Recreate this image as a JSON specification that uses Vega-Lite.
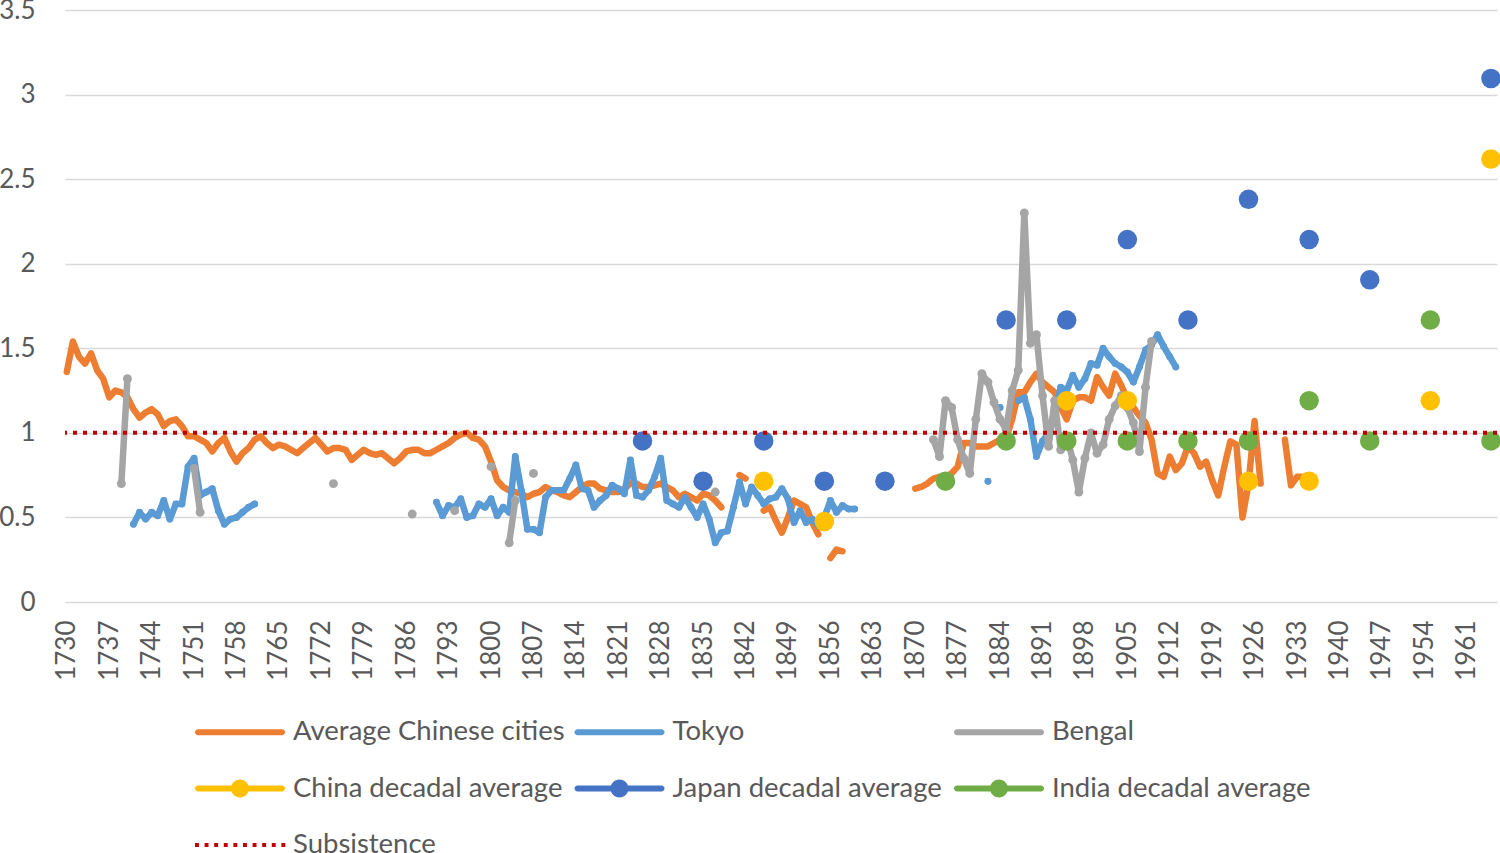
{
  "$schema": "https://vega.github.io/schema/vega-lite/v6.json",
  "width": 1432,
  "height": 592,
  "autosize": "none",
  "padding": {"left": 65, "top": 10, "right": 3, "bottom": 251},
  "background": "white",
  "config": {
    "view": {"stroke": null},
    "font": "Lato",
    "legend": {
      "title": null,
      "orient": "none",
      "direction": "horizontal",
      "legendX": 130,
      "legendY": 707,
      "columns": 3,
      "gridAlign": "all",
      "columnPadding": 9.5,
      "rowPadding": 27.5,
      "padding": 0,
      "symbolSize": 900,
      "symbolStrokeWidth": 0,
      "symbolOffset": 0,
      "symbolOpacity": 1,
      "labelOffset": 68,
      "labelFont": "Lato",
      "labelFontSize": 27.5,
      "labelColor": "#595959",
      "labelLimit": 500
    }
  },
  "datasets": {
    "annual": [
      {"year": 1730, "Average Chinese cities": 1.36},
      {"year": 1731, "Average Chinese cities": 1.54},
      {"year": 1732, "Average Chinese cities": 1.45},
      {"year": 1733, "Average Chinese cities": 1.41},
      {"year": 1734, "Average Chinese cities": 1.47},
      {"year": 1735, "Average Chinese cities": 1.37},
      {"year": 1736, "Average Chinese cities": 1.32},
      {"year": 1737, "Average Chinese cities": 1.21},
      {"year": 1738, "Average Chinese cities": 1.25},
      {"year": 1739, "Average Chinese cities": 1.24, "Bengal": 0.70},
      {"year": 1740, "Average Chinese cities": 1.21, "Bengal": 1.32},
      {"year": 1741, "Average Chinese cities": 1.14, "Tokyo": 0.46},
      {"year": 1742, "Average Chinese cities": 1.09, "Tokyo": 0.53},
      {"year": 1743, "Average Chinese cities": 1.12, "Tokyo": 0.49},
      {"year": 1744, "Average Chinese cities": 1.14, "Tokyo": 0.53},
      {"year": 1745, "Average Chinese cities": 1.11, "Tokyo": 0.51},
      {"year": 1746, "Average Chinese cities": 1.04, "Tokyo": 0.60},
      {"year": 1747, "Average Chinese cities": 1.07, "Tokyo": 0.49},
      {"year": 1748, "Average Chinese cities": 1.08, "Tokyo": 0.58},
      {"year": 1749, "Average Chinese cities": 1.04, "Tokyo": 0.58},
      {"year": 1750, "Average Chinese cities": 0.98, "Tokyo": 0.80},
      {"year": 1751, "Average Chinese cities": 0.98, "Tokyo": 0.85, "Bengal": 0.79},
      {"year": 1752, "Average Chinese cities": 0.96, "Tokyo": 0.63, "Bengal": 0.53},
      {"year": 1753, "Average Chinese cities": 0.94, "Tokyo": 0.65},
      {"year": 1754, "Average Chinese cities": 0.89, "Tokyo": 0.67},
      {"year": 1755, "Average Chinese cities": 0.94, "Tokyo": 0.54},
      {"year": 1756, "Average Chinese cities": 0.97, "Tokyo": 0.46},
      {"year": 1757, "Average Chinese cities": 0.89, "Tokyo": 0.49},
      {"year": 1758, "Average Chinese cities": 0.83, "Tokyo": 0.50},
      {"year": 1759, "Average Chinese cities": 0.88, "Tokyo": 0.53},
      {"year": 1760, "Average Chinese cities": 0.91, "Tokyo": 0.56},
      {"year": 1761, "Average Chinese cities": 0.96, "Tokyo": 0.58},
      {"year": 1762, "Average Chinese cities": 0.98},
      {"year": 1763, "Average Chinese cities": 0.94},
      {"year": 1764, "Average Chinese cities": 0.91},
      {"year": 1765, "Average Chinese cities": 0.93},
      {"year": 1766, "Average Chinese cities": 0.92},
      {"year": 1767, "Average Chinese cities": 0.90},
      {"year": 1768, "Average Chinese cities": 0.88},
      {"year": 1769, "Average Chinese cities": 0.91},
      {"year": 1770, "Average Chinese cities": 0.94},
      {"year": 1771, "Average Chinese cities": 0.97},
      {"year": 1772, "Average Chinese cities": 0.93},
      {"year": 1773, "Average Chinese cities": 0.89},
      {"year": 1774, "Average Chinese cities": 0.91, "Bengal": 0.70},
      {"year": 1775, "Average Chinese cities": 0.91},
      {"year": 1776, "Average Chinese cities": 0.90},
      {"year": 1777, "Average Chinese cities": 0.84},
      {"year": 1778, "Average Chinese cities": 0.87},
      {"year": 1779, "Average Chinese cities": 0.90},
      {"year": 1780, "Average Chinese cities": 0.88},
      {"year": 1781, "Average Chinese cities": 0.87},
      {"year": 1782, "Average Chinese cities": 0.88},
      {"year": 1783, "Average Chinese cities": 0.85},
      {"year": 1784, "Average Chinese cities": 0.82},
      {"year": 1785, "Average Chinese cities": 0.85},
      {"year": 1786, "Average Chinese cities": 0.89},
      {"year": 1787, "Average Chinese cities": 0.90, "Bengal": 0.52},
      {"year": 1788, "Average Chinese cities": 0.90},
      {"year": 1789, "Average Chinese cities": 0.88},
      {"year": 1790, "Average Chinese cities": 0.88},
      {"year": 1791, "Average Chinese cities": 0.90, "Tokyo": 0.59},
      {"year": 1792, "Average Chinese cities": 0.92, "Tokyo": 0.51},
      {"year": 1793, "Average Chinese cities": 0.94, "Tokyo": 0.57},
      {"year": 1794, "Average Chinese cities": 0.97, "Tokyo": 0.56, "Bengal": 0.54},
      {"year": 1795, "Average Chinese cities": 0.99, "Tokyo": 0.61},
      {"year": 1796, "Average Chinese cities": 1.00, "Tokyo": 0.50},
      {"year": 1797, "Average Chinese cities": 0.97, "Tokyo": 0.51},
      {"year": 1798, "Average Chinese cities": 0.96, "Tokyo": 0.58},
      {"year": 1799, "Average Chinese cities": 0.92, "Tokyo": 0.56},
      {"year": 1800, "Average Chinese cities": 0.83, "Tokyo": 0.61, "Bengal": 0.80},
      {"year": 1801, "Average Chinese cities": 0.72, "Tokyo": 0.51},
      {"year": 1802, "Average Chinese cities": 0.68, "Tokyo": 0.56},
      {"year": 1803, "Average Chinese cities": 0.66, "Tokyo": 0.53, "Bengal": 0.35},
      {"year": 1804, "Average Chinese cities": 0.65, "Tokyo": 0.86, "Bengal": 0.60},
      {"year": 1805, "Average Chinese cities": 0.64, "Tokyo": 0.66},
      {"year": 1806, "Average Chinese cities": 0.62, "Tokyo": 0.43},
      {"year": 1807, "Average Chinese cities": 0.64, "Tokyo": 0.43, "Bengal": 0.76},
      {"year": 1808, "Average Chinese cities": 0.65, "Tokyo": 0.41},
      {"year": 1809, "Average Chinese cities": 0.68, "Tokyo": 0.62},
      {"year": 1810, "Average Chinese cities": 0.66, "Tokyo": 0.66},
      {"year": 1811, "Average Chinese cities": 0.65, "Tokyo": 0.66},
      {"year": 1812, "Average Chinese cities": 0.63, "Tokyo": 0.66},
      {"year": 1813, "Average Chinese cities": 0.62, "Tokyo": 0.73},
      {"year": 1814, "Average Chinese cities": 0.65, "Tokyo": 0.81},
      {"year": 1815, "Average Chinese cities": 0.68, "Tokyo": 0.67},
      {"year": 1816, "Average Chinese cities": 0.70, "Tokyo": 0.66},
      {"year": 1817, "Average Chinese cities": 0.70, "Tokyo": 0.56},
      {"year": 1818, "Average Chinese cities": 0.67, "Tokyo": 0.60},
      {"year": 1819, "Average Chinese cities": 0.66, "Tokyo": 0.63},
      {"year": 1820, "Average Chinese cities": 0.65, "Tokyo": 0.69},
      {"year": 1821, "Average Chinese cities": 0.65, "Tokyo": 0.67},
      {"year": 1822, "Average Chinese cities": 0.67, "Tokyo": 0.64},
      {"year": 1823, "Average Chinese cities": 0.70, "Tokyo": 0.84},
      {"year": 1824, "Average Chinese cities": 0.70, "Tokyo": 0.63},
      {"year": 1825, "Average Chinese cities": 0.68, "Tokyo": 0.62},
      {"year": 1826, "Average Chinese cities": 0.68, "Tokyo": 0.66},
      {"year": 1827, "Average Chinese cities": 0.69, "Tokyo": 0.74},
      {"year": 1828, "Average Chinese cities": 0.70, "Tokyo": 0.85},
      {"year": 1829, "Average Chinese cities": 0.68, "Tokyo": 0.60},
      {"year": 1830, "Average Chinese cities": 0.66, "Tokyo": 0.58},
      {"year": 1831, "Average Chinese cities": 0.62, "Tokyo": 0.56},
      {"year": 1832, "Average Chinese cities": 0.64, "Tokyo": 0.62},
      {"year": 1833, "Average Chinese cities": 0.62, "Tokyo": 0.56},
      {"year": 1834, "Average Chinese cities": 0.60, "Tokyo": 0.50},
      {"year": 1835, "Average Chinese cities": 0.64, "Tokyo": 0.58},
      {"year": 1836, "Average Chinese cities": 0.63, "Tokyo": 0.49},
      {"year": 1837, "Average Chinese cities": 0.60, "Tokyo": 0.35, "Bengal": 0.65},
      {"year": 1838, "Average Chinese cities": 0.56, "Tokyo": 0.41},
      {"year": 1839, "Tokyo": 0.42},
      {"year": 1840, "Tokyo": 0.56},
      {"year": 1841, "Average Chinese cities": 0.75, "Tokyo": 0.71},
      {"year": 1842, "Average Chinese cities": 0.73, "Tokyo": 0.58},
      {"year": 1843, "Tokyo": 0.68},
      {"year": 1844, "Tokyo": 0.63},
      {"year": 1845, "Average Chinese cities": 0.54, "Tokyo": 0.58},
      {"year": 1846, "Average Chinese cities": 0.56, "Tokyo": 0.61},
      {"year": 1847, "Average Chinese cities": 0.48, "Tokyo": 0.62},
      {"year": 1848, "Average Chinese cities": 0.41, "Tokyo": 0.67},
      {"year": 1849, "Average Chinese cities": 0.50, "Tokyo": 0.61},
      {"year": 1850, "Average Chinese cities": 0.60, "Tokyo": 0.47},
      {"year": 1851, "Average Chinese cities": 0.58, "Tokyo": 0.54},
      {"year": 1852, "Average Chinese cities": 0.56, "Tokyo": 0.47},
      {"year": 1853, "Average Chinese cities": 0.47, "Tokyo": 0.49},
      {"year": 1854, "Average Chinese cities": 0.40, "Tokyo": 0.45},
      {"year": 1855, "Tokyo": 0.50},
      {"year": 1856, "Average Chinese cities": 0.26, "Tokyo": 0.60},
      {"year": 1857, "Average Chinese cities": 0.31, "Tokyo": 0.53},
      {"year": 1858, "Average Chinese cities": 0.30, "Tokyo": 0.57},
      {"year": 1859, "Tokyo": 0.55},
      {"year": 1860, "Tokyo": 0.55},
      {"year": 1865},
      {"year": 1870, "Average Chinese cities": 0.67},
      {"year": 1871, "Average Chinese cities": 0.68},
      {"year": 1872, "Average Chinese cities": 0.70},
      {"year": 1873, "Average Chinese cities": 0.73, "Bengal": 0.96},
      {"year": 1874, "Average Chinese cities": 0.74, "Bengal": 0.86},
      {"year": 1875, "Average Chinese cities": 0.74, "Bengal": 1.19},
      {"year": 1876, "Average Chinese cities": 0.76, "Bengal": 1.15},
      {"year": 1877, "Average Chinese cities": 0.80, "Bengal": 0.96},
      {"year": 1878, "Average Chinese cities": 0.94, "Bengal": 0.85},
      {"year": 1879, "Average Chinese cities": 0.94, "Bengal": 0.76},
      {"year": 1880, "Average Chinese cities": 0.92, "Bengal": 1.08},
      {"year": 1881, "Average Chinese cities": 0.92, "Bengal": 1.35},
      {"year": 1882, "Average Chinese cities": 0.92, "Bengal": 1.30, "Tokyo": 0.714},
      {"year": 1883, "Average Chinese cities": 0.94, "Bengal": 1.18},
      {"year": 1884, "Average Chinese cities": 0.96, "Bengal": 1.08, "Tokyo": 1.15},
      {"year": 1885, "Average Chinese cities": 0.97, "Bengal": 1.02},
      {"year": 1886, "Average Chinese cities": 1.08, "Bengal": 1.25},
      {"year": 1887, "Average Chinese cities": 1.24, "Bengal": 1.37, "Tokyo": 1.19},
      {"year": 1888, "Average Chinese cities": 1.24, "Bengal": 2.30, "Tokyo": 1.21},
      {"year": 1889, "Average Chinese cities": 1.30, "Bengal": 1.53, "Tokyo": 1.08},
      {"year": 1890, "Average Chinese cities": 1.35, "Bengal": 1.58, "Tokyo": 0.86},
      {"year": 1891, "Average Chinese cities": 1.30, "Bengal": 1.22, "Tokyo": 0.95},
      {"year": 1892, "Average Chinese cities": 1.27, "Bengal": 0.92, "Tokyo": 1.00},
      {"year": 1893, "Average Chinese cities": 1.24, "Bengal": 1.19, "Tokyo": 1.10},
      {"year": 1894, "Average Chinese cities": 1.15, "Bengal": 0.90, "Tokyo": 1.27},
      {"year": 1895, "Average Chinese cities": 1.08, "Bengal": 0.98, "Tokyo": 1.25},
      {"year": 1896, "Average Chinese cities": 1.19, "Bengal": 0.84, "Tokyo": 1.34},
      {"year": 1897, "Average Chinese cities": 1.21, "Bengal": 0.65, "Tokyo": 1.27},
      {"year": 1898, "Average Chinese cities": 1.21, "Bengal": 0.85, "Tokyo": 1.32},
      {"year": 1899, "Average Chinese cities": 1.19, "Bengal": 1.00, "Tokyo": 1.41},
      {"year": 1900, "Average Chinese cities": 1.33, "Bengal": 0.88, "Tokyo": 1.40},
      {"year": 1901, "Average Chinese cities": 1.27, "Bengal": 0.93, "Tokyo": 1.50},
      {"year": 1902, "Average Chinese cities": 1.22, "Bengal": 1.08, "Tokyo": 1.45},
      {"year": 1903, "Average Chinese cities": 1.35, "Bengal": 1.16, "Tokyo": 1.41},
      {"year": 1904, "Average Chinese cities": 1.28, "Bengal": 1.22, "Tokyo": 1.39},
      {"year": 1905, "Average Chinese cities": 1.20, "Bengal": 1.15, "Tokyo": 1.36},
      {"year": 1906, "Average Chinese cities": 1.15, "Bengal": 1.06, "Tokyo": 1.30},
      {"year": 1907, "Average Chinese cities": 1.10, "Bengal": 0.89, "Tokyo": 1.39},
      {"year": 1908, "Average Chinese cities": 1.06, "Bengal": 1.27, "Tokyo": 1.49},
      {"year": 1909, "Average Chinese cities": 0.96, "Bengal": 1.54, "Tokyo": 1.52},
      {"year": 1910, "Average Chinese cities": 0.76, "Tokyo": 1.58},
      {"year": 1911, "Average Chinese cities": 0.74, "Tokyo": 1.51},
      {"year": 1912, "Average Chinese cities": 0.86, "Tokyo": 1.45},
      {"year": 1913, "Average Chinese cities": 0.78, "Tokyo": 1.39},
      {"year": 1914, "Average Chinese cities": 0.82},
      {"year": 1915, "Average Chinese cities": 0.92},
      {"year": 1916, "Average Chinese cities": 0.88},
      {"year": 1917, "Average Chinese cities": 0.80},
      {"year": 1918, "Average Chinese cities": 0.83},
      {"year": 1919, "Average Chinese cities": 0.72},
      {"year": 1920, "Average Chinese cities": 0.63},
      {"year": 1921, "Average Chinese cities": 0.80},
      {"year": 1922, "Average Chinese cities": 0.95},
      {"year": 1923, "Average Chinese cities": 0.93},
      {"year": 1924, "Average Chinese cities": 0.50},
      {"year": 1925, "Average Chinese cities": 0.70},
      {"year": 1926, "Average Chinese cities": 1.07},
      {"year": 1927, "Average Chinese cities": 0.70},
      {"year": 1929},
      {"year": 1931, "Average Chinese cities": 0.96},
      {"year": 1932, "Average Chinese cities": 0.69},
      {"year": 1933, "Average Chinese cities": 0.74},
      {"year": 1934, "Average Chinese cities": 0.74}
    ],
    "decadal": [
      {"year": 1845, "series": "China decadal average", "value": 0.714},
      {"year": 1855, "series": "China decadal average", "value": 0.476},
      {"year": 1895, "series": "China decadal average", "value": 1.190},
      {"year": 1905, "series": "China decadal average", "value": 1.190},
      {"year": 1925, "series": "China decadal average", "value": 0.714},
      {"year": 1935, "series": "China decadal average", "value": 0.714},
      {"year": 1955, "series": "China decadal average", "value": 1.190},
      {"year": 1965, "series": "China decadal average", "value": 2.619},
      {"year": 1825, "series": "Japan decadal average", "value": 0.952},
      {"year": 1835, "series": "Japan decadal average", "value": 0.714},
      {"year": 1845, "series": "Japan decadal average", "value": 0.952},
      {"year": 1855, "series": "Japan decadal average", "value": 0.714},
      {"year": 1865, "series": "Japan decadal average", "value": 0.714},
      {"year": 1885, "series": "Japan decadal average", "value": 1.667},
      {"year": 1895, "series": "Japan decadal average", "value": 1.667},
      {"year": 1905, "series": "Japan decadal average", "value": 2.143},
      {"year": 1915, "series": "Japan decadal average", "value": 1.667},
      {"year": 1925, "series": "Japan decadal average", "value": 2.381},
      {"year": 1935, "series": "Japan decadal average", "value": 2.143},
      {"year": 1945, "series": "Japan decadal average", "value": 1.905},
      {"year": 1965, "series": "Japan decadal average", "value": 3.095},
      {"year": 1875, "series": "India decadal average", "value": 0.714},
      {"year": 1885, "series": "India decadal average", "value": 0.952},
      {"year": 1895, "series": "India decadal average", "value": 0.952},
      {"year": 1905, "series": "India decadal average", "value": 0.952},
      {"year": 1915, "series": "India decadal average", "value": 0.952},
      {"year": 1925, "series": "India decadal average", "value": 0.952},
      {"year": 1935, "series": "India decadal average", "value": 1.190},
      {"year": 1945, "series": "India decadal average", "value": 0.952},
      {"year": 1955, "series": "India decadal average", "value": 1.667},
      {"year": 1965, "series": "India decadal average", "value": 0.952}
    ],
    "subsistence": [
      {"series": "Subsistence", "value": 1}
    ]
  },
  "layer": [
    {
      "data": {"name": "annual"},
      "transform": [
        {"fold": ["Average Chinese cities", "Tokyo", "Bengal"], "as": ["series", "value"]},
        {"filter": "datum.series === 'Tokyo' && isValid(datum.value)"}
      ],
      "mark": {"type": "point", "filled": true, "fill": "white", "stroke": "#5B9BD5", "strokeWidth": 1.5, "size": 30, "opacity": 1},
      "encoding": {
        "x": {
          "field": "year", "type": "quantitative",
          "scale": {"domain": [1729.7, 1966], "nice": false, "zero": false},
          "axis": {
            "title": null,
            "values": [1730, 1737, 1744, 1751, 1758, 1765, 1772, 1779, 1786, 1793, 1800, 1807, 1814, 1821, 1828, 1835, 1842, 1849, 1856, 1863, 1870, 1877, 1884, 1891, 1898, 1905, 1912, 1919, 1926, 1933, 1940, 1947, 1954, 1961],
            "format": "d",
            "labelAngle": -90,
            "labelFont": "Lato",
            "labelFontSize": 26,
            "labelColor": "#595959",
            "labelPadding": 18,
            "labelOverlap": false,
            "grid": false,
            "ticks": false,
            "domain": false
          }
        },
        "y": {
          "field": "value", "type": "quantitative",
          "scale": {"domain": [0, 3.5], "nice": false},
          "axis": {
            "title": null,
            "values": [0, 0.5, 1, 1.5, 2, 2.5, 3, 3.5],
            "format": "~g",
            "labelFont": "Lato",
            "labelFontSize": 26,
            "labelColor": "#595959",
            "labelPadding": 30,
            "labelOverlap": false,
            "grid": true,
            "gridColor": "#D9D9D9",
            "gridWidth": 1.5,
            "ticks": false,
            "domain": false
          }
        }
      }
    },
    {
      "data": {"name": "annual"},
      "transform": [
        {"fold": ["Average Chinese cities", "Tokyo", "Bengal"], "as": ["series", "value"]}
      ],
      "mark": {"type": "line", "strokeWidth": 6.5, "strokeCap": "round", "strokeJoin": "round"},
      "encoding": {
        "x": {"field": "year", "type": "quantitative"},
        "y": {"field": "value", "type": "quantitative"},
        "color": {
          "field": "series", "type": "nominal",
          "scale": {
            "domain": ["Average Chinese cities", "Tokyo", "Bengal", "China decadal average", "Japan decadal average", "India decadal average", "Subsistence"],
            "range": ["#ED7D31", "#5B9BD5", "#A5A5A5", "#FFC000", "#4472C4", "#70AD47", "#C00000"]
          },
          "legend": {
            "symbolFillColor": {"expr": "scale('color', datum.value)"},
            "symbolType": {"expr": "datum.value == 'Subsistence' ? 'M-1,-0.13h0.26v0.26h-0.26ZM-0.36,-0.13h0.26v0.26h-0.26ZM0.28,-0.13h0.26v0.26h-0.26ZM0.92,-0.13h0.26v0.26h-0.26ZM1.56,-0.13h0.26v0.26h-0.26ZM2.2,-0.13h0.26v0.26h-0.26ZM2.84,-0.13h0.26v0.26h-0.26ZM3.48,-0.13h0.26v0.26h-0.26ZM4.12,-0.13h0.26v0.26h-0.26ZM4.76,-0.13h0.26v0.26h-0.26Z' : indexof(datum.value, 'decadal') >= 0 ? 'M-0.8,-0.2L4.8,-0.2A0.2,0.2,0,0,1,4.8,0.2L-0.8,0.2A0.2,0.2,0,0,1,-0.8,-0.2ZM2.6,0A0.6,0.6,0,1,1,1.4,0A0.6,0.6,0,1,1,2.6,0Z' : 'M-0.8,-0.2L4.8,-0.2A0.2,0.2,0,0,1,4.8,0.2L-0.8,0.2A0.2,0.2,0,0,1,-0.8,-0.2Z'"}
          }
        }
      }
    },
    {
      "data": {"name": "annual"},
      "transform": [
        {"fold": ["Average Chinese cities", "Tokyo", "Bengal"], "as": ["series", "value"]},
        {"filter": "datum.series === 'Bengal' && isValid(datum.value)"}
      ],
      "mark": {"type": "circle", "size": 80, "color": "#A5A5A5", "opacity": 1},
      "encoding": {
        "x": {"field": "year", "type": "quantitative"},
        "y": {"field": "value", "type": "quantitative"}
      }
    },
    {
      "data": {"name": "decadal"},
      "mark": {"type": "circle", "size": 380, "opacity": 1},
      "encoding": {
        "x": {"field": "year", "type": "quantitative"},
        "y": {"field": "value", "type": "quantitative"},
        "color": {
          "field": "series", "type": "nominal",
          "scale": {
            "domain": ["Average Chinese cities", "Tokyo", "Bengal", "China decadal average", "Japan decadal average", "India decadal average", "Subsistence"],
            "range": ["#ED7D31", "#5B9BD5", "#A5A5A5", "#FFC000", "#4472C4", "#70AD47", "#C00000"]
          },
          "legend": {
            "symbolFillColor": {"expr": "scale('color', datum.value)"},
            "symbolType": {"expr": "datum.value == 'Subsistence' ? 'M-1,-0.13h0.26v0.26h-0.26ZM-0.36,-0.13h0.26v0.26h-0.26ZM0.28,-0.13h0.26v0.26h-0.26ZM0.92,-0.13h0.26v0.26h-0.26ZM1.56,-0.13h0.26v0.26h-0.26ZM2.2,-0.13h0.26v0.26h-0.26ZM2.84,-0.13h0.26v0.26h-0.26ZM3.48,-0.13h0.26v0.26h-0.26ZM4.12,-0.13h0.26v0.26h-0.26ZM4.76,-0.13h0.26v0.26h-0.26Z' : indexof(datum.value, 'decadal') >= 0 ? 'M-0.8,-0.2L4.8,-0.2A0.2,0.2,0,0,1,4.8,0.2L-0.8,0.2A0.2,0.2,0,0,1,-0.8,-0.2ZM2.6,0A0.6,0.6,0,1,1,1.4,0A0.6,0.6,0,1,1,2.6,0Z' : 'M-0.8,-0.2L4.8,-0.2A0.2,0.2,0,0,1,4.8,0.2L-0.8,0.2A0.2,0.2,0,0,1,-0.8,-0.2Z'"}
          }
        }
      }
    },
    {
      "data": {"name": "subsistence"},
      "mark": {"type": "rule", "color": "#C00000", "strokeWidth": 4, "strokeDash": [4, 6]},
      "encoding": {
        "y": {"field": "value", "type": "quantitative"}
      }
    }
  ]
}
